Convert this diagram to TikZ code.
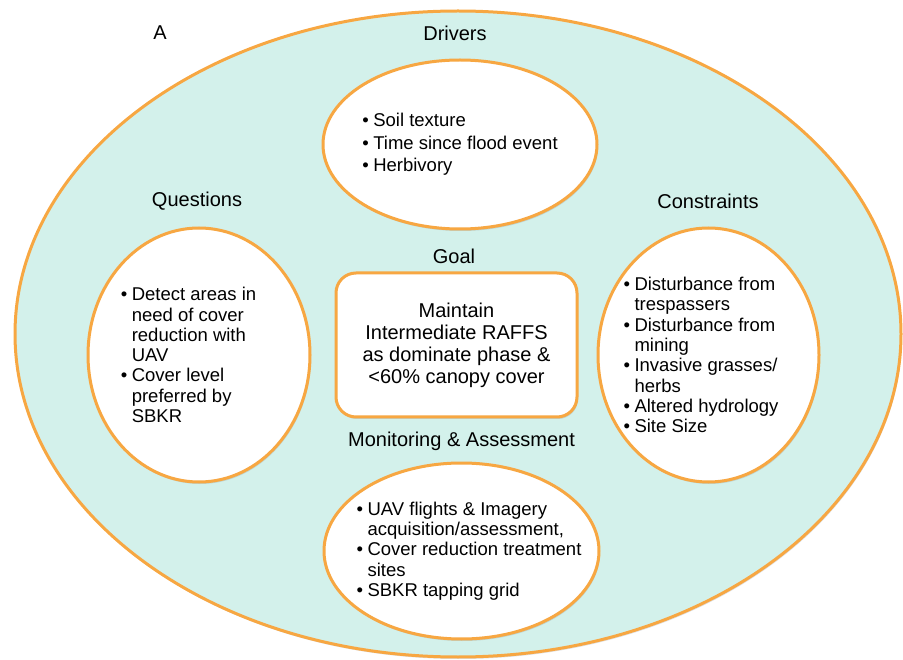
\documentclass[tikz,border=0pt]{standalone}
\usepackage{fontspec}
\setmainfont{Liberation Sans}
\usetikzlibrary{shapes.geometric,shadows}
\definecolor{mint}{RGB}{211,241,235}
\definecolor{amber}{RGB}{247,167,66}
\newcommand{\bpt}{\makebox[11pt][l]{\textbullet}}
\newcommand{\bind}{\hspace*{11pt}}

\begin{document}
\begin{tikzpicture}[x=1pt,y=-1pt,
  field/.style={ellipse,draw=amber,line width=3pt,fill=mint,inner sep=0pt,
    drop shadow={opacity=0.25,shadow xshift=1pt,shadow yshift=-2pt}},
  part/.style={ellipse,draw=amber,line width=3pt,fill=white,inner sep=0pt,
    drop shadow={opacity=0.25,shadow xshift=1pt,shadow yshift=-2pt}},
  goalbox/.style={rectangle,rounded corners=20pt,draw=amber,line width=3pt,fill=white,
    align=center,font=\fontsize{20}{22}\selectfont,
    drop shadow={opacity=0.25,shadow xshift=1pt,shadow yshift=-2pt}},
  heading/.style={inner sep=0pt,font=\fontsize{20}{24}\selectfont},
  items/.style={inner sep=0pt,align=left,font=\fontsize{18.5}{20.3}\selectfont}]
\useasboundingbox (0,0) rectangle (903,660);

\node[field,minimum width=886pt,minimum height=646pt] (field) at (458,334) {};

\node[part,minimum width=274pt,minimum height=169pt] (drivers) at (460,144.5) {};
\node[part,minimum width=222pt,minimum height=254pt] (quest) at (199,355) {};
\node[part,minimum width=221pt,minimum height=254pt] (constr) at (708.5,355) {};
\node[part,minimum width=275pt,minimum height=176pt] (monitor) at (461.5,551) {};
\node[goalbox,minimum width=241pt,minimum height=144pt] (goal) at (456.5,345)
  {Maintain\\Intermediate RAFFS\\as dominate phase \&\\<60\% canopy cover};

\node[heading] (panel) at (160,33) {A};
\node[heading] (driverslbl) at (455,33) {Drivers};
\node[heading] (questlbl) at (197,201) {Questions};
\node[heading] (constrlbl) at (708,201) {Constraints};
\node[heading] (goallbl) at (454,256) {Goal};
\node[heading] (monitorlbl) at (461.5,441) {Monitoring \& Assessment};

\node[items,font=\fontsize{18.5}{22.5}\selectfont] (driverstext) at (drivers.center)
  {\bpt Soil texture\\ \bpt Time since flood event\\ \bpt Herbivory};
\node[items] (questtext) at ([xshift=-10.5pt]quest.center)
  {\bpt Detect areas in\\ \bind need of cover\\ \bind reduction with\\ \bind UAV\\
   \bpt Cover level\\ \bind preferred by\\ \bind SBKR};
\node[items] (constrtext) at ([xshift=-7.5pt]constr.center)
  {\bpt Disturbance from\\ \bind trespassers\\ \bpt Disturbance from\\ \bind mining\\
   \bpt Invasive grasses/\\ \bind herbs\\ \bpt Altered hydrology\\ \bpt Site Size};
\node[items] (monitortext) at ([xshift=7.5pt]monitor.center)
  {\bpt UAV flights \& Imagery\\ \bind acquisition/assessment,\\
   \bpt Cover reduction treatment\\ \bind sites\\ \bpt SBKR tapping grid};
\end{tikzpicture}
\end{document}
